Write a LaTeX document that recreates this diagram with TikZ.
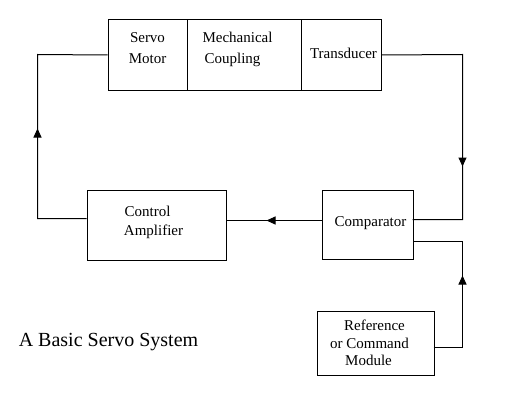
\documentclass[tikz,border=0pt]{standalone}
\usepackage{fontspec}
\setmainfont{Liberation Serif}
\usetikzlibrary{arrows.meta}
\begin{document}
\begin{tikzpicture}[x=1pt,y=-1pt, line width=1pt,
  box/.style={draw, inner sep=0pt, anchor=north west},
  lbl/.style={font=\fontsize{15}{17}\selectfont, inner sep=0pt},
  ttl/.style={font=\fontsize{20}{24}\selectfont, inner sep=0pt},
  tip/.style={-{Triangle[width=8pt,length=9pt]}}]
\useasboundingbox (0,0) rectangle (508,412);
\begin{scope}[shift={(0.5,0.5)}]
% boxes
\node[box, minimum width=79pt, minimum height=70pt] (servo) at (107,19) {};
\node[box, minimum width=114pt, minimum height=70pt] (coupling) at (186,19) {};
\node[box, minimum width=80pt, minimum height=70pt] (trans) at (300,19) {};
\node[box, minimum width=139pt, minimum height=70pt] (amp) at (86,189) {};
\node[box, minimum width=91pt, minimum height=69pt] (comp) at (321,189) {};
\node[box, minimum width=117pt, minimum height=64pt] (ref) at (316,310) {};
% labels
\node[lbl] (t1) at (147,37) {Servo};
\node[lbl] (t2) at (147,58) {Motor};
\node[lbl] (t3) at (237,37) {Mechanical};
\node[lbl] (t4) at (232,59) {Coupling};
\node[lbl] (t5) at (343,53) {Transducer};
\node[lbl] (t6) at (147,211) {Control};
\node[lbl] (t7) at (153,231) {Amplifier};
\node[lbl] (t8) at (370,223) {Comparator};
\node[lbl] (t9) at (374,325) {Reference};
\node[lbl] (t10) at (369,343) {or Command};
\node[lbl] (t11) at (368,360) {Module};
\node[ttl] (title) at (108,342) {A Basic Servo System};
% coordinates
\coordinate (ampL) at (86,218);
\coordinate (c1) at (37,218);
\coordinate (c2) at (37,54);
\coordinate (c3) at (462,54);
\coordinate (c4) at (462,219);
\coordinate (compR1) at (412,219);
\coordinate (compL) at (321,220);
\coordinate (ampR) at (225,220);
\coordinate (refR) at (433,347);
\coordinate (c5) at (462,347);
\coordinate (c6) at (462,241);
\coordinate (compR2) at (412,241);
\coordinate (a1s) at (37,140);
\coordinate (a1e) at (37,128);
\coordinate (a2s) at (462,150);
\coordinate (a2e) at (462,166);
\coordinate (a3s) at (280,220);
\coordinate (a3e) at (266,220);
\coordinate (a4s) at (462,290);
\coordinate (a4e) at (462,275);
% connectors
\draw (ampL) -- (c1) -- (c2) -- (servo.west);
\draw (trans.east) -- (c3) -- (c4) -- (compR1);
\draw (compL) -- (ampR);
\draw (refR) -- (c5) -- (c6) -- (compR2);
\draw[tip] (a1s) -- (a1e);
\draw[tip] (a2s) -- (a2e);
\draw[tip] (a3s) -- (a3e);
\draw[tip] (a4s) -- (a4e);
\end{scope}
\end{tikzpicture}
\end{document}
